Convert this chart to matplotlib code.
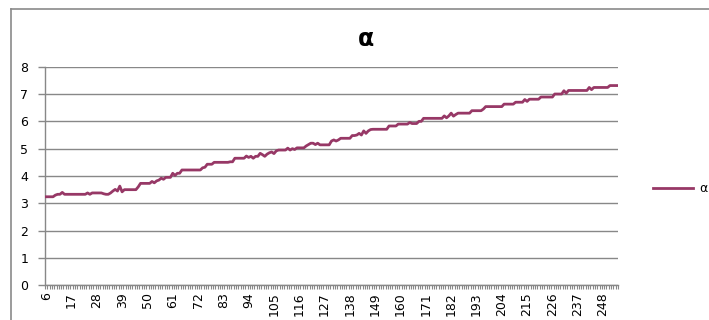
import matplotlib
matplotlib.use("Agg")
import matplotlib.pyplot as plt
from matplotlib.lines import Line2D
from matplotlib.ticker import FixedLocator, NullFormatter

# Series values, one per category (6 .. 254)
alpha = [
    3.24, 3.24, 3.24, 3.24, 3.30, 3.33, 3.33, 3.40, 3.33, 3.33,
    3.33, 3.33, 3.33, 3.33, 3.33, 3.33, 3.33, 3.33, 3.38, 3.33,
    3.38, 3.38, 3.38, 3.38, 3.38, 3.35, 3.33, 3.33, 3.38, 3.45,
    3.51, 3.45, 3.63, 3.42, 3.50, 3.50, 3.50, 3.50, 3.50, 3.50,
    3.60, 3.73, 3.73, 3.73, 3.73, 3.73, 3.80, 3.75, 3.82, 3.85,
    3.92, 3.88, 3.95, 3.95, 3.95, 4.10, 4.02, 4.10, 4.10, 4.22,
    4.22, 4.22, 4.22, 4.22, 4.22, 4.22, 4.22, 4.22, 4.30, 4.32,
    4.43, 4.43, 4.43, 4.50, 4.50, 4.50, 4.50, 4.50, 4.50, 4.50,
    4.52, 4.52, 4.65, 4.65, 4.65, 4.65, 4.65, 4.73, 4.68, 4.72,
    4.65, 4.72, 4.72, 4.83, 4.78, 4.72, 4.80, 4.85, 4.88, 4.82,
    4.92, 4.95, 4.95, 4.95, 4.95, 5.02, 4.95, 5.00, 4.97, 5.03,
    5.03, 5.03, 5.03, 5.10, 5.15, 5.20, 5.20, 5.15, 5.20, 5.14,
    5.14, 5.14, 5.14, 5.14, 5.28, 5.32, 5.28, 5.32, 5.38, 5.38,
    5.38, 5.38, 5.38, 5.48, 5.48, 5.50, 5.56, 5.50, 5.65, 5.56,
    5.65, 5.70, 5.71, 5.71, 5.71, 5.71, 5.71, 5.71, 5.71, 5.83,
    5.83, 5.83, 5.83, 5.90, 5.90, 5.90, 5.90, 5.90, 5.96, 5.92,
    5.92, 5.92, 6.00, 6.00, 6.11, 6.11, 6.11, 6.11, 6.11, 6.11,
    6.11, 6.11, 6.11, 6.20, 6.13, 6.20, 6.30, 6.19, 6.25, 6.30,
    6.30, 6.30, 6.30, 6.30, 6.30, 6.39, 6.39, 6.39, 6.39, 6.39,
    6.45, 6.54, 6.54, 6.54, 6.54, 6.54, 6.54, 6.54, 6.54, 6.63,
    6.63, 6.63, 6.63, 6.63, 6.70, 6.70, 6.70, 6.70, 6.80, 6.73,
    6.81, 6.81, 6.81, 6.81, 6.81, 6.89, 6.89, 6.89, 6.89, 6.89,
    6.89, 7.00, 7.00, 7.00, 7.00, 7.12, 7.03, 7.13, 7.13, 7.13,
    7.13, 7.13, 7.13, 7.13, 7.13, 7.13, 7.24, 7.16, 7.24, 7.24,
    7.24, 7.24, 7.24, 7.24, 7.24, 7.31, 7.31, 7.31, 7.31,
]
categories = list(range(6, 6 + len(alpha)))
x_tick_labels = [6, 17, 28, 39, 50, 61, 72, 83, 94, 105, 116, 127,
                 138, 149, 160, 171, 182, 193, 204, 215, 226, 237, 248]
y_ticks = [0, 1, 2, 3, 4, 5, 6, 7, 8]
series_name = "α"

W, H = 709, 320
line_color = "#973866"
grid_color = "#888888"

plt.rcParams["font.family"] = ["DejaVu Sans"]
fig = plt.figure(figsize=(W / 100, H / 100), dpi=100)

# chart-area frame (left and top edges fall inside the canvas)
fig.add_artist(Line2D([11 / W, 11 / W], [0, 1 - 9 / H], transform=fig.transFigure,
                      color="#8a8a8a", lw=1.2))
fig.add_artist(Line2D([11 / W, 1], [1 - 9 / H, 1 - 9 / H], transform=fig.transFigure,
                      color="#8a8a8a", lw=1.2))

left, right, top, bottom = 45, 618, 66.7, 285.3
ax = fig.add_axes([left / W, 1 - bottom / H, (right - left) / W, (bottom - top) / H])

ax.plot(categories, alpha, color=line_color, lw=2.0, solid_joinstyle="round",
        label=series_name, zorder=3)

ax.set_xlim(categories[0] - 0.5, categories[-1] + 0.5)
ax.set_ylim(0, 8)
ax.set_yticks(y_ticks)
ax.yaxis.grid(True, color=grid_color, lw=1.0)
ax.set_axisbelow(True)

for side in ("top", "right"):
    ax.spines[side].set_visible(False)
for side in ("left", "bottom"):
    ax.spines[side].set_color(grid_color)
    ax.spines[side].set_linewidth(1.0)

ax.set_xticks(x_tick_labels)
ax.set_xticklabels([str(v) for v in x_tick_labels], rotation=90, va="top", ha="center")
ax.tick_params(axis="x", which="major", length=0, labelsize=9, pad=5, labelcolor="black")
ax.xaxis.set_minor_locator(FixedLocator([c - 0.5 for c in categories] + [categories[-1] + 0.5]))
ax.xaxis.set_minor_formatter(NullFormatter())
ax.tick_params(axis="x", which="minor", direction="out", length=3, width=0.8, color=grid_color)

ax.tick_params(axis="y", which="major", direction="out", length=5, width=1.0,
               color=grid_color, labelsize=9, pad=7, labelcolor="black")

fig.text(366 / W, 1 - 39.5 / H, series_name, ha="center", va="center",
         fontsize=17, fontweight="bold")

ax.legend(loc="center left", bbox_to_anchor=(653 / W, 1 - 189 / H),
          bbox_transform=fig.transFigure, frameon=False, fontsize=9,
          handlelength=3.2, handletextpad=0.5, borderpad=0, borderaxespad=0)

fig.savefig("out.png", dpi=100)
